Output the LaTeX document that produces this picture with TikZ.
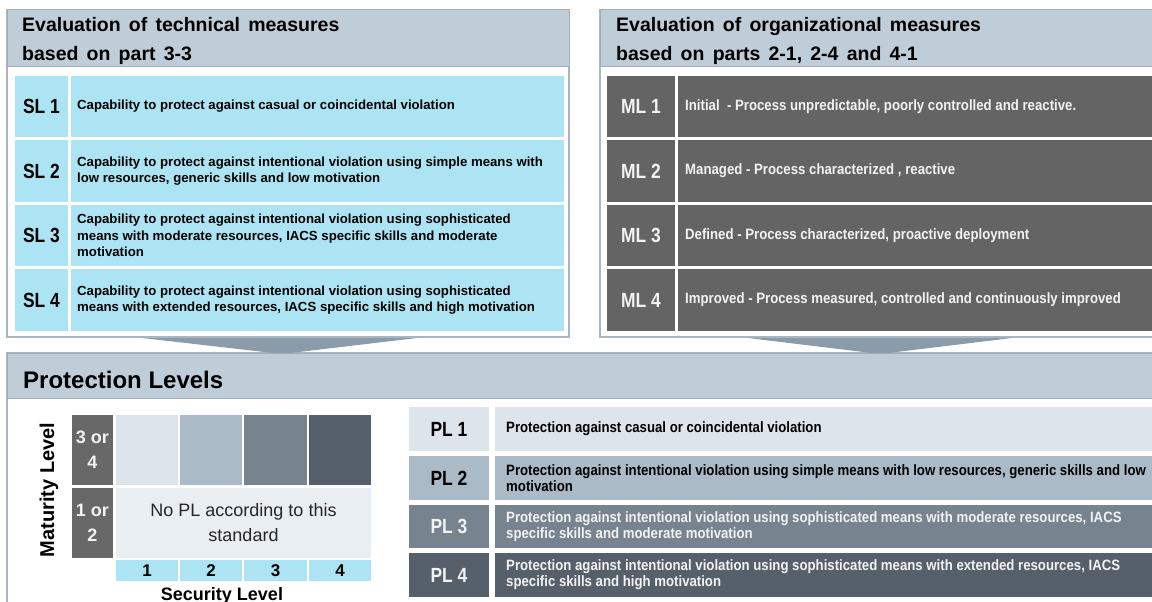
\documentclass[tikz,border=0pt]{standalone}
\usepackage{fontspec}
\setmainfont{Liberation Sans}
\newfontfamily\narrowsans[FakeStretch=0.85]{Liberation Sans}
\newfontfamily\descsans[FakeStretch=0.88]{Liberation Sans}
\definecolor{hdr}{HTML}{BFCDD8}
\definecolor{hdrline}{HTML}{9DAFBD}
\definecolor{pane}{HTML}{A9B6C0}
\definecolor{slcyan}{HTML}{ADE4F3}
\definecolor{mldark}{HTML}{646464}
\definecolor{funnel}{HTML}{8A9CAA}
\definecolor{plA}{HTML}{DEE4EB}
\definecolor{plB}{HTML}{AABAC6}
\definecolor{plC}{HTML}{77848F}
\definecolor{plD}{HTML}{56606B}
\definecolor{noplc}{HTML}{E9EEF2}
\definecolor{mxdark}{HTML}{686868}
\definecolor{ltxt}{HTML}{F2F2F2}
\newcommand\widesp{\spaceskip=0.42em plus 0.1em\relax}
\newcommand\cellbox[6]{%
  \pgfmathsetmacro\cbw{#4-#2}%
  \pgfmathsetmacro\cbh{#5-#3}%
  \node[cell,#6,anchor=north west,minimum width=\cbw pt,minimum height=\cbh pt] (#1) at (#2,#3) {};}
\begin{document}
\begin{tikzpicture}[x=1pt,y=-1pt,
  cell/.style={inner sep=0pt,outer sep=0pt,draw=none},
  ttl/.style={font=\bfseries\fontsize{19.5}{23}\selectfont,anchor=base west,inner sep=0pt},
  lblN/.style={font=\narrowsans\bfseries\fontsize{20.5}{24}\selectfont,inner sep=0pt},
  sldesc/.style={font=\bfseries\fontsize{13.2}{16.5}\selectfont,align=left,anchor=west,inner sep=0pt},
  mldesc/.style={font=\descsans\bfseries\fontsize{15}{18}\selectfont,align=left,anchor=west,inner sep=0pt,text=ltxt},
  pldesc/.style={font=\descsans\bfseries\fontsize{15}{16}\selectfont,align=left,anchor=west,inner sep=0pt},
  mxtxt/.style={font=\bfseries\fontsize{18}{25}\selectfont,align=center,inner sep=0pt},
  numtxt/.style={font=\bfseries\fontsize{17}{20}\selectfont,inner sep=0pt}]
\useasboundingbox (0,0) rectangle (1152,602);
\clip (0,0) rectangle (1152,602);
\fill[white] (0,0) rectangle (1152,602);

% ---------- left panel ----------
\cellbox{lpanel}{7}{10}{569}{337}{fill=white,draw=pane,line width=1.2pt}
\cellbox{lhead}{7}{10}{569}{67}{fill=hdr,draw=hdrline,line width=1pt}
\node[ttl] (lt1) at (22,32) {\widesp Evaluation of technical measures};
\node[ttl] (lt2) at (22,61) {\widesp based on part 3-3};
\foreach \i/\ya/\yb/\txt in {
  1/76/137/{Capability to protect against casual or coincidental violation},
  2/140/202/{Capability to protect against intentional violation using simple means with\\low resources, generic skills and low motivation},
  3/205/266/{Capability to protect against intentional violation using sophisticated\\means with moderate resources, IACS specific skills and moderate\\motivation},
  4/269/331/{Capability to protect against intentional violation using sophisticated\\means with extended resources, IACS specific skills and high motivation}}{
  \cellbox{sl\i}{15}{\ya}{68}{\yb}{fill=slcyan}
  \cellbox{sld\i}{71}{\ya}{564}{\yb}{fill=slcyan}
  \node[lblN] at (sl\i) {SL \i};
  \node[sldesc] at ([xshift=6pt]sld\i.west) {\txt};
}

% ---------- right panel ----------
\cellbox{rpanel}{600}{10}{1165}{337}{fill=white,draw=pane,line width=1.2pt}
\cellbox{rhead}{600}{10}{1165}{67}{fill=hdr,draw=hdrline,line width=1pt}
\node[ttl] (rt1) at (616,32) {\widesp Evaluation of organizational measures};
\node[ttl] (rt2) at (616,61) {\widesp based on parts 2-1, 2-4 and 4-1};
\foreach \i/\ya/\yb/\txt in {
  1/76/137/{Initial\ \ - Process unpredictable, poorly controlled and reactive.},
  2/140/202/{Managed - Process characterized , reactive},
  3/205/266/{Defined - Process characterized, proactive deployment},
  4/269/331/{Improved - Process measured, controlled and continuously improved}}{
  \cellbox{ml\i}{607}{\ya}{675}{\yb}{fill=mldark}
  \cellbox{mld\i}{678}{\ya}{1165}{\yb}{fill=mldark}
  \node[lblN,text=ltxt] at (ml\i) {ML \i};
  \node[mldesc] at ([xshift=7pt]mld\i.west) {\txt};
}

% ---------- bottom panel ----------
\cellbox{bpanel}{7}{353}{1165}{620}{fill=white,draw=pane,line width=1.2pt}

% funnels
\coordinate (lfa) at (142,338);
\coordinate (lfb) at (417,338);
\coordinate (lfc) at (282,354);
\coordinate (rfa) at (748,338);
\coordinate (rfb) at (1012,338);
\coordinate (rfc) at (880,354);
\fill[funnel] (lfa) -- (lfb) -- (lfc) -- cycle;
\fill[funnel] (rfa) -- (rfb) -- (rfc) -- cycle;

\cellbox{plhead}{7}{353}{1165}{398}{fill=hdr,draw=hdrline,line width=1pt}
\node[font=\bfseries\fontsize{24}{28}\selectfont,anchor=base west,inner sep=0pt] (plt) at (23,388) {Protection Levels};

% ---------- matrix ----------
\cellbox{m34}{72}{415}{113}{485}{fill=mxdark}
\cellbox{m12}{72}{488}{113}{558}{fill=mxdark}
\node[mxtxt,text=ltxt] at (m34) {3 or\\4};
\node[mxtxt,text=ltxt] at (m12) {1 or\\2};
\cellbox{c1}{116}{415}{178}{485}{fill=plA}
\cellbox{c2}{180}{415}{242}{485}{fill=plB}
\cellbox{c3}{244}{415}{307}{485}{fill=plC}
\cellbox{c4}{309}{415}{371}{485}{fill=plD}
\cellbox{nopl}{116}{488}{371}{558}{fill=noplc}
\node[font=\fontsize{18}{25}\selectfont,align=center,inner sep=0pt,text=black!85] at (nopl) {No PL according to this\\standard};
\cellbox{n1}{116}{560}{178}{581}{fill=slcyan}
\cellbox{n2}{180}{560}{242}{581}{fill=slcyan}
\cellbox{n3}{244}{560}{307}{581}{fill=slcyan}
\cellbox{n4}{309}{560}{371}{581}{fill=slcyan}
\foreach \i in {1,2,3,4}{\node[numtxt] at (n\i) {\i};}
\node[font=\bfseries\fontsize{18}{22}\selectfont,anchor=base,inner sep=0pt] (seclab) at (222,600) {Security Level};
\node[font=\bfseries\fontsize{20}{24}\selectfont,rotate=90,inner sep=0pt] (matlab) at (49,490) {Maturity Level};

% ---------- PL rows ----------
\foreach \i/\ya/\yb/\col/\tc/\txt in {
  1/407/451/plA/black/{Protection against casual or coincidental violation},
  2/456/500/plB/black/{Protection against intentional violation using simple means with low resources, generic skills and low\\motivation},
  3/505/548/plC/ltxt/{Protection against intentional violation using sophisticated means with moderate resources, IACS\\specific skills and moderate motivation},
  4/553/597/plD/ltxt/{Protection against intentional violation using sophisticated means with extended resources, IACS\\specific skills and high motivation}}{
  \cellbox{pl\i}{409}{\ya}{489}{\yb}{fill=\col}
  \cellbox{pld\i}{495}{\ya}{1165}{\yb}{fill=\col}
  \node[lblN,text=\tc] at (pl\i) {PL \i};
  \node[pldesc,text=\tc] at ([xshift=11pt]pld\i.west) {\txt};
}
\end{tikzpicture}
\end{document}
